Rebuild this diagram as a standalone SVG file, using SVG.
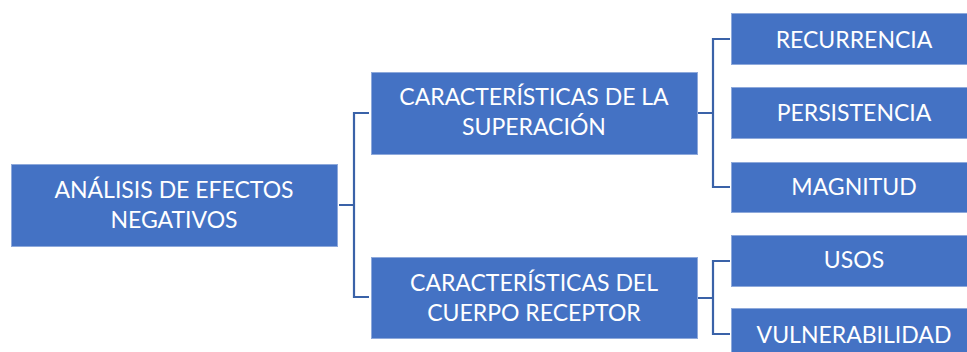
<svg xmlns="http://www.w3.org/2000/svg" width="967" height="352" viewBox="0 0 967 352">
<style>
.box{fill:#4472C4;stroke:#8EA9DB;stroke-width:1}
.t{font-family:Lato,"Open Sans",sans-serif;font-size:23px;fill:#FFFFFF;text-anchor:middle}
.c{fill:none;stroke:#3A62A8;stroke-width:2.2}
</style>
<rect width="967" height="352" fill="#FFFFFF"/>
<g id="connectors">
<path class="c" d="M339 205 H354 M369 113 H354 V297 H369"/>
<path class="c" d="M698 113 H713 M730 39 H713 V187 H730"/>
<path class="c" d="M698 298 H713 M730 261 H713 V334 H730"/>
</g>
<g id="root">
<rect class="box" x="11.5" y="164.5" width="326" height="82"/>
<text class="t" x="174" y="198">ANÁLISIS DE EFECTOS</text>
<text class="t" x="174" y="228">NEGATIVOS</text>
</g>
<g id="superacion">
<rect class="box" x="371.5" y="72.5" width="326" height="82"/>
<text class="t" x="534" y="105">CARACTERÍSTICAS DE LA</text>
<text class="t" x="534" y="135">SUPERACIÓN</text>
</g>
<g id="receptor">
<rect class="box" x="371.5" y="257.5" width="326" height="81"/>
<text class="t" x="534" y="291">CARACTERÍSTICAS DEL</text>
<text class="t" x="534" y="321">CUERPO RECEPTOR</text>
</g>
<g id="recurrencia">
<rect class="box" x="731.5" y="13.5" width="250" height="51"/>
<text class="t" x="854" y="48">RECURRENCIA</text>
</g>
<g id="persistencia">
<rect class="box" x="731.5" y="87.5" width="250" height="51"/>
<text class="t" x="854" y="121">PERSISTENCIA</text>
</g>
<g id="magnitud">
<rect class="box" x="731.5" y="162.5" width="250" height="50"/>
<text class="t" x="854" y="195">MAGNITUD</text>
</g>
<g id="usos">
<rect class="box" x="731.5" y="235.5" width="250" height="51"/>
<text class="t" x="854" y="268">USOS</text>
</g>
<g id="vulnerabilidad">
<rect class="box" x="731.5" y="308.5" width="250" height="50"/>
<text class="t" x="854" y="343">VULNERABILIDAD</text>
</g>
</svg>
